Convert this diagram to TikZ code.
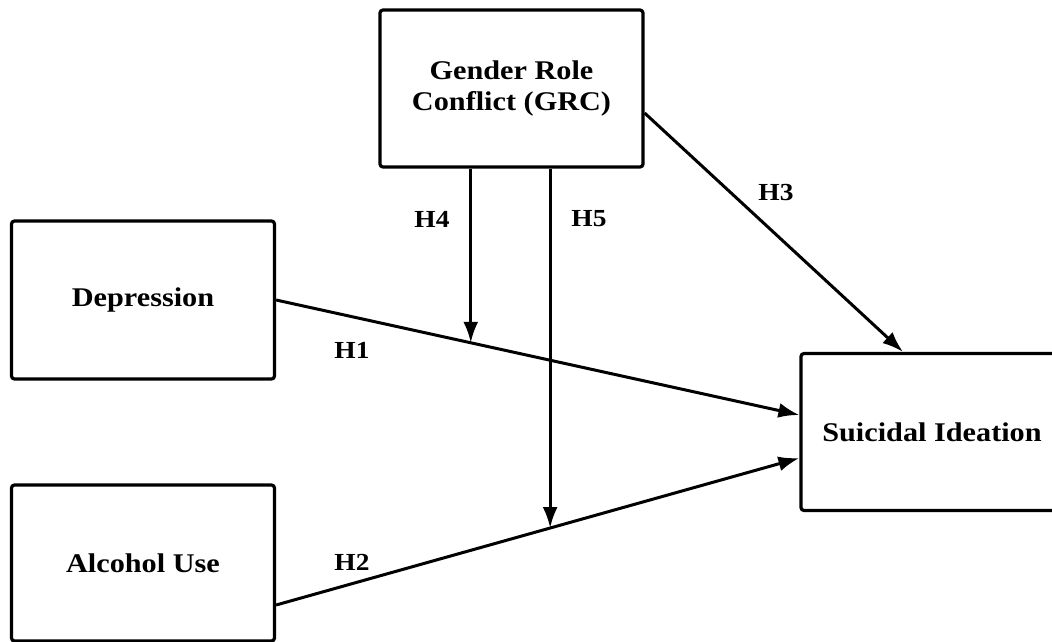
\documentclass[tikz,border=0pt]{standalone}
\usepackage{fontspec}
\setmainfont{Liberation Serif}[FakeStretch=1.12]
\usetikzlibrary{arrows.meta,calc}
\begin{document}
\begin{tikzpicture}[x=1pt,y=-1pt,
  box/.style={draw, line width=3.2pt, rounded corners=3pt, minimum width=263pt, minimum height=157pt,
    inner sep=0pt, align=center, font=\bfseries\fontsize{27}{31}\selectfont},
  conn/.style={line width=3pt, -{Latex[length=21pt,width=15pt]}},
  lab/.style={font=\bfseries\fontsize{24.5}{28}\selectfont, inner sep=0pt}]
\useasboundingbox (0,0) rectangle (1052,641);
\clip (0,0) rectangle (1052,641);
\node[box] (grc) at (511.5,88.5) {Gender Role\\Conflict (GRC)};
\node[box, minimum height=158pt] (dep) at (143,300) {Depression};
\node[box, minimum height=156pt] (alc) at (143,563) {Alcohol Use};
\node[box, minimum width=262pt] (sui) at (932,432) {Suicidal Ideation};
\coordinate (s1) at ([yshift=17pt]sui.west);
\coordinate (s2) at ([yshift=-26pt]sui.west);
\draw[conn] (dep.east) -- (s1);
\draw[conn] (alc.east |- 0,605) -- (s2);
\coordinate (m1) at ($(dep.east)!0.372!(s1)$);
\coordinate (m2) at ($(alc.east |- 0,605)!0.5237!(s2)$);
\draw[conn] (grc.south -| m1) -- (m1);
\draw[conn] (grc.south -| m2) -- (m2);
\draw[conn] ([yshift=-24.5pt]grc.east) -- ([xshift=-29pt]sui.north);
\node[lab] (h1) at (352,350) {H1};
\node[lab] (h2) at (352,562) {H2};
\node[lab] (h3) at (776,193) {H3};
\node[lab] (h4) at (432,219) {H4};
\node[lab] (h5) at (589,219) {H5};
\end{tikzpicture}
\end{document}
